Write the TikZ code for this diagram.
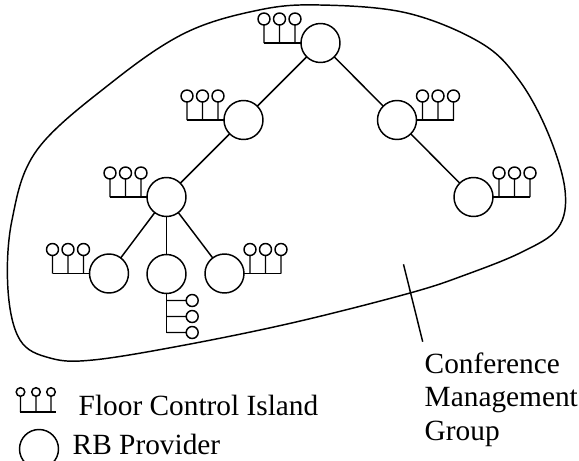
\documentclass[tikz,border=0pt]{standalone}
\usepackage{fontspec}
\setmainfont{Liberation Serif}
\begin{document}
\begin{tikzpicture}[x=0.75pt,y=-0.75pt, line width=1.1pt,
  prov/.style={circle, draw, minimum size=29.25pt, inner sep=0pt, outer sep=0pt},
  lbl/.style={anchor=base west, inner sep=0pt, font=\fontsize{22}{25}\selectfont},
  islandL/.pic={\draw (0,0) -- (-37,0);
    \foreach \d in {6,21.5,37}{\draw (-\d,0) -- (-\d,-18) (-\d,-24) circle[radius=6];}},
  islandR/.pic={\draw (0,0) -- (37,0);
    \foreach \d in {6,21.5,37}{\draw (\d,0) -- (\d,-18) (\d,-24) circle[radius=6];}},
  islandD/.pic={\draw (0,0) -- (0,39);
    \foreach \d in {7,23,39}{\draw (0,\d) -- (19.7,\d) (25.7,\d) circle[radius=6];}}
]
\useasboundingbox (0,0) rectangle (579,461);

% group outline
\draw plot[smooth cycle, tension=0.6] coordinates {
  (320,5) (407,13) (481,43) (519,80) (548,133) (565,190) (558,228) (522,252)
  (465,275) (410,293) (296,322) (185,345) (93,360) (50,358) (20,340) (8,290)
  (12,220) (37,150) (111,83) (185,33) (259,10)};

% providers
\node[prov] (top) at (320.5,43) {};
\node[prov] (n2) at (243.5,120) {};
\node[prov] (n3) at (397,120) {};
\node[prov] (n5) at (166.5,197) {};
\node[prov] (n4) at (473.5,197) {};
\node[prov] (n6) at (109,273.5) {};
\node[prov] (n7) at (166.5,274) {};
\node[prov] (n8) at (224.5,273.5) {};

% tree
\draw (top) -- (n2);
\draw (top) -- (n3);
\draw (n2) -- (n5);
\draw (n3) -- (n4);
\draw (n5) -- (n6);
\draw (n5) -- (n7);
\draw (n5) -- (n8);

% floor control islands
\pic at (top.west) {islandL};
\pic at (n2.west) {islandL};
\pic at (n5.west) {islandL};
\pic at (n6.west) {islandL};
\pic at (n3.east) {islandR};
\pic at (n4.east) {islandR};
\pic at (n8.east) {islandR};
\pic at (n7.south) {islandD};

% group label
\coordinate (la) at (403.5,264.3);
\coordinate (lb) at (422.7,341.7);
\draw (la) -- (lb);
\node[lbl] (g1) at (424,373) {Conference};
\node[lbl] (g2) at (424,406.5) {Management};
\node[lbl] (g3) at (424,440) {Group};

% legend
\draw (19.5,412) -- (56,412);
\foreach \d in {20.5,36,51}{\draw (\d,412) -- (\d,396.3) (\d,392) circle[radius=4.3];}
\node[lbl] (t1) at (78,415) {Floor Control Island};
\node[prov] (leg) at (39,449) {};
\node[lbl] (t2) at (72,454) {RB Provider};
\end{tikzpicture}
\end{document}
